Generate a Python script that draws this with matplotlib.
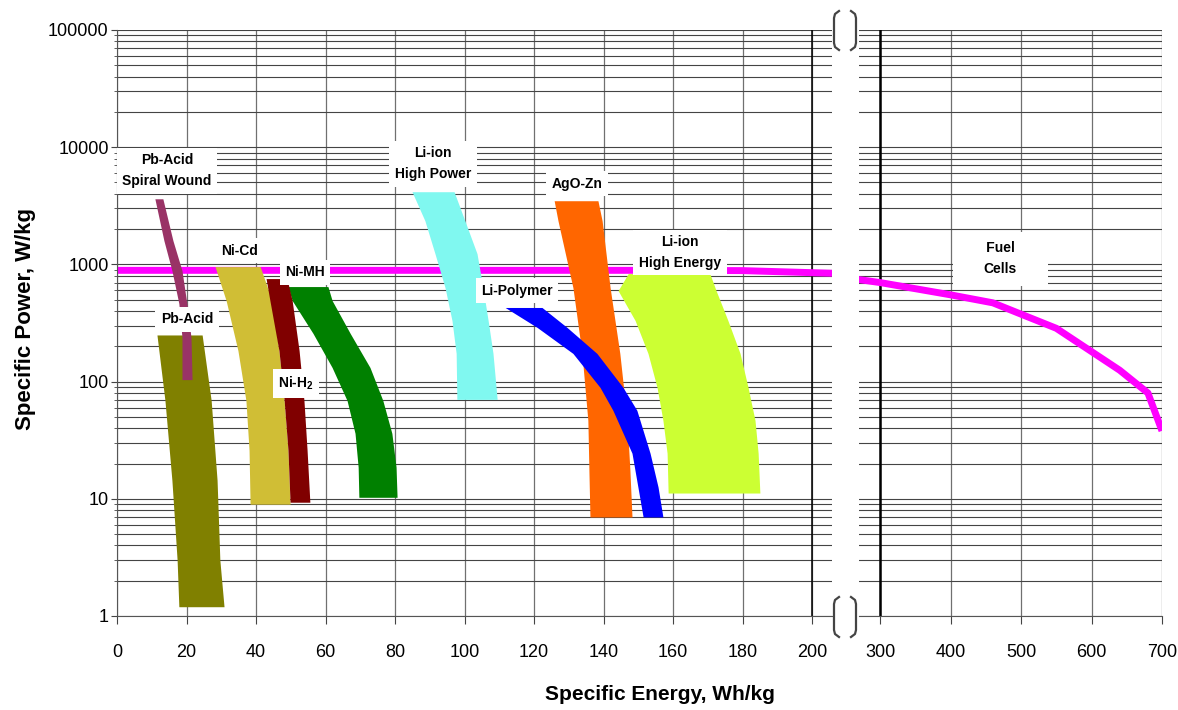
import matplotlib
matplotlib.use("Agg")
import matplotlib.pyplot as plt
from matplotlib.lines import Line2D
from matplotlib.ticker import FixedLocator, FixedFormatter, LogLocator, NullFormatter

plt.rcParams['font.family'] = ['Liberation Sans', 'DejaVu Sans']
plt.rcParams['mathtext.fontset'] = 'custom'
plt.rcParams['mathtext.rm'] = 'Liberation Sans'
plt.rcParams['mathtext.bf'] = 'Liberation Sans:bold'

# ---- data: specific power (W/kg) levels and left/right specific energy (Wh/kg) edges ----
pb_acid_p = [250, 69, 14.4, 3.0, 1.2]
pb_acid_left = [11.5, 13.8, 15.8, 17.3, 17.8]
pb_acid_right = [24.5, 27.1, 28.8, 29.6, 30.8]

spiral_p = [3630, 1596, 886, 464, 238, 104]
spiral_left = [10.9, 13.5, 15.8, 17.8, 18.7, 18.7]
spiral_right = [13.2, 16.1, 18.7, 20.1, 21.3, 21.6]

nicd_p = [958, 492, 184, 69, 26, 9.0]
nicd_left = [28.2, 31.4, 34.8, 37.1, 38.0, 38.3]
nicd_right = [41.2, 44.6, 46.6, 48.1, 49.2, 49.8]

nih2_p = [757, 492, 184, 69, 26, 9.35]
nih2_left = [42.9, 44.0, 46.6, 48.1, 49.2, 49.8]
nih2_right = [48.9, 50.4, 52.4, 53.8, 54.7, 55.5]

nimh_p = [647, 492, 258, 132, 69, 36.2, 18.6, 10.3]
nimh_left = [49.2, 50.4, 56.4, 61.9, 66.2, 68.5, 69.4, 69.6]
nimh_right = [60.7, 61.9, 67.1, 72.8, 76.5, 79.1, 80.3, 80.6]

lihp_p = [4170, 2361, 1236, 634, 332, 174, 70.5]
lihp_left = [84.9, 88.6, 91.5, 94.4, 96.4, 97.6, 97.8]
lihp_right = [97.0, 100.1, 103.6, 105.3, 106.8, 108.2, 109.4]

agozn_p = [3494, 2361, 634, 174, 46.7, 17.5, 7.0]
agozn_left = [125.8, 126.9, 131.2, 133.8, 135.5, 135.8, 136.1]
agozn_right = [138.4, 139.6, 141.9, 144.7, 146.8, 147.6, 148.2]

lipoly_p = [429, 290, 174, 89.3, 56.9, 24.5, 12.6, 7.0]
lipoly_left = [111.7, 120.9, 131.2, 139.0, 142.7, 148.2, 149.9, 151.4]
lipoly_right = [122.3, 129.5, 138.1, 145.6, 149.6, 153.4, 155.7, 157.1]

lihe_p = [835, 598, 332, 174, 89.3, 46.7, 24.5, 11.2]
lihe_left = [147.1, 144.2, 149.1, 152.8, 155.4, 157.1, 158.3, 158.6]
lihe_right = [170.6, 172.4, 175.8, 179.3, 181.6, 183.6, 184.5, 185.0]

fuel_e = [0, 150, 180, 200, 300, 400, 460, 550, 640, 680, 700]
fuel_p = [890, 890, 885, 850, 700, 550, 470, 285, 125, 80, 38]

left_xticks = [0, 20, 40, 60, 80, 100, 120, 140, 160, 180, 200]
right_xticks = [300, 400, 500, 600, 700]
yticks = [1, 10, 100, 1000, 10000, 100000]
ytick_labels = ['1', '10', '100', '1000', '10000', '100000']

bands = [
    (pb_acid_p, pb_acid_left, pb_acid_right, '#808000', 2),
    (spiral_p, spiral_left, spiral_right, '#993366', 3),
    (nicd_p, nicd_left, nicd_right, '#D0BE35', 2),
    (nih2_p, nih2_left, nih2_right, '#800000', 3),
    (nimh_p, nimh_left, nimh_right, '#008000', 2),
    (lihp_p, lihp_left, lihp_right, '#80F8F0', 2),
    (agozn_p, agozn_left, agozn_right, '#FF6600', 2),
    (lipoly_p, lipoly_left, lipoly_right, '#0000FF', 3),
    (lihe_p, lihe_left, lihe_right, '#CCFF33', 2),
]

labels = [
    ('Pb-Acid\nSpiral Wound', 14.4, 6295),
    ('Ni-Cd', 35.4, 1312),
    ('Ni-MH', 54.1, 860),
    ('Pb-Acid', 20.1, 339),
    (r'Ni-H$_\mathbf{2}$', 51.5, 96.5),
    ('Li-ion\nHigh Power', 90.9, 7220),
    ('AgO-Zn', 132.4, 4875),
    ('Li-Polymer', 115.1, 598),
    ('Li-ion\nHigh Energy', 162.0, 1260),
]

W, H = 1178, 710
fig = plt.figure(figsize=(W / 100, H / 100), dpi=100)
ax1 = fig.add_axes([117 / W, 1 - 616 / H, (832 - 117) / W, (616 - 30) / H])
ax2 = fig.add_axes([859 / W, 1 - 616 / H, (1162 - 859) / W, (616 - 30) / H])

for ax in (ax1, ax2):
    ax.set_yscale('log')
    ax.set_ylim(1, 1e5)
    ax.set_axisbelow(True)
    ax.yaxis.set_major_locator(FixedLocator(yticks))
    ax.yaxis.set_major_formatter(FixedFormatter(ytick_labels))
    ax.yaxis.set_minor_locator(LogLocator(base=10, subs=range(2, 10)))
    ax.yaxis.set_minor_formatter(NullFormatter())
    ax.yaxis.grid(True, which='both', color='#444444', lw=0.8)
    ax.xaxis.grid(True, which='major', color='#707070', lw=0.9)
    ax.tick_params(axis='x', direction='out', length=6, width=0.8, color='#444444',
                   labelsize=13, pad=14)
    ax.tick_params(axis='y', which='major', direction='out', length=4, width=0.8,
                   color='#444444', labelsize=13, pad=2)
    ax.tick_params(axis='y', which='minor', direction='out', length=2, width=0.6, color='#444444')
    ax.spines['top'].set_visible(False)
    ax.spines['right'].set_visible(False)
    ax.spines['bottom'].set_color('#555555')
    ax.spines['left'].set_color('#555555')
    ax.plot(fuel_e, fuel_p, color='#FF00FF', lw=5, zorder=1.5, solid_capstyle='butt')

ax1.set_xlim(0, 200 + 20 / 3.475)
ax1.set_xticks(left_xticks)
ax1.axvline(200, color='black', lw=1.1, zorder=0.7)

ax2.set_xlim(300 - 21 / 0.7025, 700)
ax2.set_xticks(right_xticks)
ax2.spines['left'].set_visible(False)
ax2.tick_params(axis='y', which='both', left=False, labelleft=False)
ax2.axvline(300, color='black', lw=1.8, zorder=0.7)

for p, xl, xr, c, z in bands:
    ax1.fill_betweenx(p, xl, xr, color=c, lw=0, zorder=z)

box = dict(facecolor='white', edgecolor='none', pad=4)
for s, x, y in labels:
    ax1.text(x, y, s, ha='center', va='center', fontsize=10, fontweight='bold',
             linespacing=1.6, bbox=box, zorder=6)
ax2.text(470.8, 1120, '      Fuel      \nCells', ha='center', va='center', fontsize=10,
         fontweight='bold', linespacing=1.6, zorder=6,
         bbox=dict(facecolor='white', edgecolor='none', pad=7))

fig.text(660 / W, 1 - 695 / H, 'Specific Energy, Wh/kg', ha='center', va='center',
         fontsize=15, fontweight='bold')
fig.text(26 / W, 1 - 319 / H, 'Specific Power, W/kg', ha='center', va='center',
         rotation=90, fontsize=16, fontweight='bold')

# axis break brackets
for top, bot in ((11, 50), (597, 637)):
    for xs in ((839, 835, 834, 834, 835, 839), (851, 855, 856, 856, 855, 851)):
        ys = (top, top + 3, top + 7, bot - 7, bot - 3, bot)
        fig.add_artist(Line2D([x / W for x in xs], [1 - y / H for y in ys],
                              color='#444444', lw=1.6, transform=fig.transFigure))

fig.savefig('out.png', dpi=100)
